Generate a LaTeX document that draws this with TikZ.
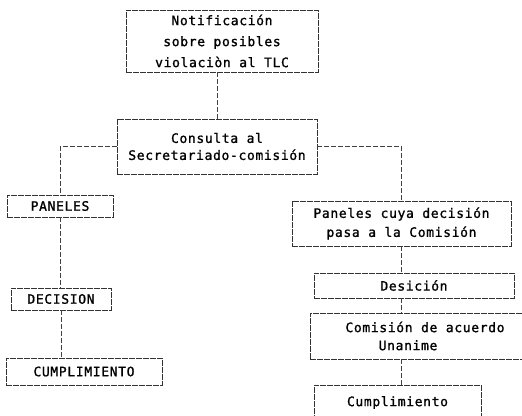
\documentclass[tikz,border=0pt]{standalone}
\usepackage{fontspec}
\usepackage{tikz}
\newfontfamily\boxfont[LetterSpace=5,FakeBold=1.2]{DejaVu Sans Mono}
\usetikzlibrary{calc}

\tikzset{
  flowbox/.style={draw=black!80, line width=0.6pt, dash pattern=on 6pt off 1pt,
    font=\boxfont\fontsize{13}{17}\selectfont, align=center, inner sep=0pt},
  flowline/.style={draw=black!75, line width=0.6pt, dash pattern=on 5pt off 2pt}
}

\begin{document}
\begin{tikzpicture}[x=1pt,y=-1pt]

 \useasboundingbox (0,0) rectangle (522,415);

 % tronco central
 \node[flowbox, minimum width=192, minimum height=62] (notif) at (222,41)
   {Notificación\\[4pt]sobre posibles\\[4pt]violaciòn al TLC};
 \node[flowbox, minimum width=200, minimum height=55] (consulta) at (217,146.5)
   {Consulta al\\Secretariado-comisión};
 \draw[flowline] (consulta.north |- notif.south) -- (consulta.north);

 % rama izquierda
 \node[flowbox, minimum width=106, minimum height=22] (paneles) at (60,206) {PANELES};
 \node[flowbox, minimum width=100, minimum height=22] (decision) at (61,299) {DECISION};
 \node[flowbox, minimum width=156, minimum height=27] (cumplA) at (84,371.5) {CUMPLIMIENTO};
 \draw[flowline] (consulta.west) -| (paneles.north);
 \draw[flowline] (paneles.south) -- (paneles.south |- decision.north);
 \draw[flowline] (decision.south) -- (decision.south |- cumplA.north);

 % rama derecha
 \node[flowbox, minimum width=219, minimum height=45] (panelesC) at (401.5,223.5)
   {Paneles cuya decisión\\[2pt]pasa a la Comisión};
 \node[flowbox, minimum width=200, minimum height=25] (desicion) at (414,285.5) {Desición};
 \node[flowbox, minimum width=230, minimum height=46, align=left] (comision) at (425,336)
   {Comisión de acuerdo\\[1pt]\phantom{Comi}Unanime};
 \node[flowbox, minimum width=167, minimum height=35] (cumplB) at (397.5,402.5) {Cumplimiento};
 \draw[flowline] (consulta.east) -| (panelesC.north);
 \draw[flowline] (panelesC.south) -- (panelesC.south |- desicion.north);
 \draw[flowline] (desicion.south -| panelesC.south) -- (comision.north -| panelesC.south);
 \draw[flowline] (comision.south -| panelesC.south) -- (cumplB.north -| panelesC.south);

\end{tikzpicture}
\end{document}
